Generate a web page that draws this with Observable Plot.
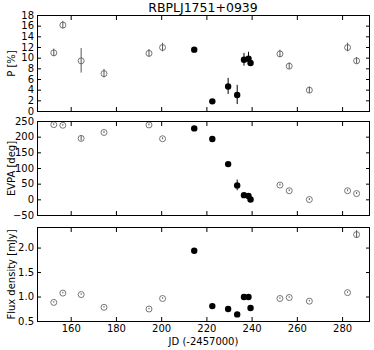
<!DOCTYPE html>
<html><head><meta charset="utf-8">
<script src="https://cdn.jsdelivr.net/npm/d3@7"></script>
<script src="https://cdn.jsdelivr.net/npm/@observablehq/plot@0.6"></script>
<style>
body{margin:0;background:#fff;}
#chart{position:relative;width:374px;height:350px;font-family:"DejaVu Sans";}
#chart svg{position:absolute;left:0;overflow:visible;}
.title{position:absolute;top:1px;left:37px;width:332px;text-align:center;font-size:12.5px;line-height:14px;font-family:"DejaVu Sans";color:#000;}
</style></head><body>
<div id="chart"><div class="title">RBPLJ1751+0939</div></div>
<script>
// Julian date (-2457000)
const jd = [152.3, 156.3, 164.4, 174.5, 194.4, 200.4, 214.4, 222.4, 229.4, 233.4, 236.4, 238.4, 239.3, 252.3, 256.4, 265.3, 282.2, 286.2];
// polarization fraction [%]
const pol = [11.0, 16.2, 9.5, 7.1, 10.9, 12.0, 11.6, 1.9, 4.7, 3.1, 9.7, 9.9, 9.1, 10.8, 8.5, 4.0, 12.0, 9.5];
const polErr = [0.7, 0.7, 2.3, 0.8, 0.7, 0.8, 0.3, 0.3, 1.5, 1.8, 1.2, 1.2, 0.5, 0.7, 0.6, 0.6, 0.8, 0.6];
// EVPA [deg]
const evpa = [240, 238, 196, 215, 239, 195, 228, 194, 114, 46, 15, 12, 1, 47, 29, 1, 29, 20];
const evpaErr = [3, 3, 8, 3, 3, 3, 3, 3, 3, 17, 3, 3, 4, 3, 3, 3, 3, 3];
// flux density [mJy]
const flux = [0.89, 1.08, 1.05, 0.79, 0.755, 0.97, 1.945, 0.815, 0.755, 0.645, 1.0, 1.0, 0.775, 0.97, 0.99, 0.915, 1.09, 2.275];
const fluxErr = [0.015, 0.015, 0.015, 0.015, 0.015, 0.015, 0.01, 0.01, 0.01, 0.01, 0.01, 0.01, 0.01, 0.015, 0.015, 0.015, 0.015, 0.08];
// filled (flare) points
const flare = [false, false, false, false, false, false, true, true, true, true, true, true, true, false, false, false, false, false];

const xTicks = [160, 180, 200, 220, 240, 260, 280];
const pTicks = [0, 2, 4, 6, 8, 10, 12, 14, 16, 18];
const evpaTicks = [-50, 0, 50, 100, 150, 200, 250];
const fluxTicks = [0.5, 1.0, 1.5, 2.0];

const rows = jd.map((x, i) => ({jd: x, p: pol[i], pe: polErr[i], e: evpa[i], ee: evpaErr[i], f: flux[i], fe: fluxErr[i], flare: flare[i]}));
const openRows = rows.filter(d => !d.flare);
const fillRows = rows.filter(d => d.flare);
const blank = () => "";

function panel({y, ye, domain, ticks, fmt, label, top, height, mt, mb, showX}) {
  const svg = Plot.plot({
    width: 374, height, marginTop: mt, marginBottom: mb, marginLeft: 37, marginRight: 5,
    style: {fontFamily: "DejaVu Sans", fontSize: "10px", color: "#000", background: "none", overflow: "visible"},
    x: {domain: [145.1, 291.9]},
    y: {domain},
    marks: [
      Plot.ruleX(openRows, {x: "jd", y1: d => d[y] - d[ye], y2: d => d[y] + d[ye], stroke: "#555", strokeWidth: 1}),
      Plot.dot(openRows, {x: "jd", y, r: 3, stroke: "#555", fill: "none", strokeWidth: 0.8}),
      Plot.ruleX(fillRows, {x: "jd", y1: d => d[y] - d[ye], y2: d => d[y] + d[ye], stroke: "#000", strokeWidth: 1}),
      Plot.dot(fillRows, {x: "jd", y, r: 3.2, fill: "#000", stroke: "none"}),
      Plot.frame({stroke: "#000"}),
      Plot.axisY(ticks, {anchor: "left", tickSize: -4, tickPadding: 7.5, tickFormat: fmt, label, labelAnchor: "center", labelOffset: 30, labelArrow: "none"}),
      Plot.axisY(ticks, {anchor: "right", tickSize: -4, tickFormat: blank, label: null}),
      Plot.axisX(xTicks, {anchor: "bottom", tickSize: -4, tickPadding: 7.5, tickFormat: showX ? (d => String(d)) : blank, label: showX ? "JD (-2457000)" : null, labelAnchor: "center", labelOffset: 23, labelArrow: "none"}),
      Plot.axisX(xTicks, {anchor: "top", tickSize: -4, tickFormat: blank, label: null})
    ]
  });
  svg.style.top = top + "px";
  document.getElementById("chart").appendChild(svg);
}

panel({y: "p", ye: "pe", domain: [0, 18], ticks: pTicks, fmt: d => String(d), label: "P [%]", top: 0, height: 112, mt: 15, mb: 1, showX: false});
panel({y: "e", ye: "ee", domain: [-50, 250], ticks: evpaTicks, fmt: d => d < 0 ? "\u2212" + Math.abs(d) : String(d), label: "EVPA [deg]", top: 111, height: 105, mt: 10, mb: 1, showX: false});
panel({y: "f", ye: "fe", domain: [0.5, 2.42], ticks: fluxTicks, fmt: d => d.toFixed(1), label: "Flux density [mJy]", top: 215, height: 135, mt: 12, mb: 29, showX: true});
</script>
</body></html>
